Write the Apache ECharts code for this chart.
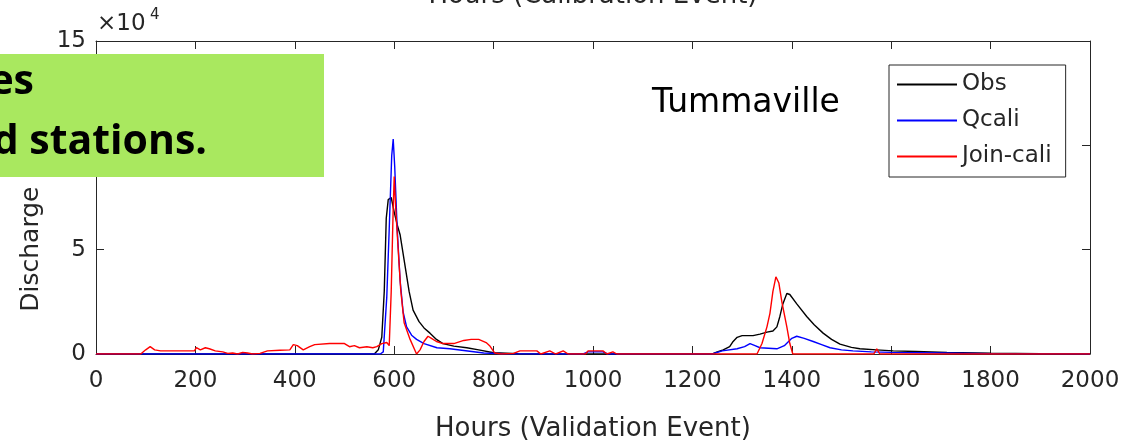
<!DOCTYPE html>
<html>
<head>
<meta charset="utf-8">
<script src="https://cdn.jsdelivr.net/npm/echarts@6/dist/echarts.min.js"></script>
<style>html,body{margin:0;padding:0;background:#fff}#c{width:1126px;height:447px}</style>
</head>
<body>
<div id="c"></div>
<script>
// ---- data (hours, discharge) ----
var obsHours = [0,560,568,575,580,584,588,594,600,606,612,620,630,638,650,660,672,685,698,720,746,770,800,850,900,1240,1250,1262,1275,1282,1290,1300,1322,1336,1350,1362,1370,1376,1382,1390,1396,1410,1430,1445,1463,1480,1497,1520,1537,1570,1604,1650,1712,1800,1900,2000];
var obsValues = [0,0,2000,8000,30000,65000,74000,75000,68000,62000,57000,45000,30000,21000,15500,12500,10000,7000,5000,3800,3000,2000,600,200,0,0,1000,2000,3500,6000,8000,8800,8800,9500,10500,11000,13000,18000,24000,29000,28500,24000,18000,14000,10000,7000,4700,3200,2500,2000,1500,1200,700,400,100,0];

var qcaliHours = [0,572,578,585,590,595,598,601,606,612,618,625,635,645,660,686,712,780,820,900,980,990,1020,1030,1240,1260,1290,1305,1316,1326,1336,1370,1385,1400,1410,1425,1443,1460,1477,1500,1523,1560,1600,1700,1800,2000];
var qcaliValues = [0,0,1000,27000,60000,95000,103000,90000,60000,35000,20000,13000,9000,7000,5000,3000,2500,500,100,0,0,1000,1000,0,0,1500,2500,3500,5000,4000,3000,2500,4000,7500,8500,7500,6000,4500,3000,2000,1500,1000,800,500,200,0];

var joinHours = [0,90,100,109,118,130,150,180,198,202,210,220,228,240,255,265,275,285,295,305,315,330,345,370,390,397,405,417,430,440,470,500,510,520,530,545,557,565,575,585,590,594,598,600,603,608,613,620,632,645,652,660,668,675,685,698,720,740,755,770,785,792,802,815,840,853,870,887,895,913,925,940,950,985,990,1020,1028,1040,1048,1330,1340,1350,1356,1362,1368,1374,1380,1390,1396,1402,1565,1571,1577,2000];
var joinValues = [0,0,2000,3500,2000,1500,1500,1500,1500,3000,2000,3000,2500,1500,1000,300,500,0,800,500,0,300,1500,1800,2000,4500,4000,2000,3500,4500,5000,5000,3500,4000,3000,3500,3000,3500,5000,5500,4000,30000,70000,85000,70000,50000,31000,15000,7000,0,2000,6000,8500,7500,6000,5000,5000,6500,7000,7000,5500,4000,500,0,300,1500,1500,1500,0,1500,0,1500,0,0,1500,1500,0,1000,0,0,5000,13000,19500,30000,37000,34000,25000,13000,5000,0,0,2500,0,0];

var seriesNames = ['Obs','Qcali','Join-cali'];
var xTicks = [0,200,400,600,800,1000,1200,1400,1600,1800,2000];
var yTicks = [0,50000,100000,150000];

function zip(h, v){ var out=[]; for(var i=0;i<h.length;i++) out.push([h[i], v[i]]); return out; }

var axisColor = '#262626';
var font = 'DejaVu Sans';
var chart = echarts.init(document.getElementById('c'), null, {renderer:'canvas'});

var baseX = {
  type:'value', min:xTicks[0], max:xTicks[xTicks.length-1], interval:200,
  axisLine:{show:true, onZero:false, lineStyle:{color:axisColor, width:1}},
  axisTick:{show:true, inside:true, length:8, lineStyle:{color:axisColor}},
  splitLine:{show:false}
};
var baseY = {
  type:'value', min:yTicks[0], max:yTicks[yTicks.length-1], interval:50000,
  axisLine:{show:true, onZero:false, lineStyle:{color:axisColor, width:1}},
  axisTick:{show:true, inside:true, length:8, lineStyle:{color:axisColor}},
  splitLine:{show:false}
};

var option = {
  animation:false,
  backgroundColor:'#ffffff',
  grid:{left:96, right:36, top:41, bottom:89, containLabel:false},
  xAxis:[
    Object.assign({}, baseX, {position:'bottom',
      axisLabel:{show:true, margin:16, color:axisColor, fontSize:23, fontFamily:font,
        formatter:function(v){return String(v);}},
      name:'Hours (Validation Event)', nameLocation:'middle', nameGap:62,
      nameTextStyle:{color:axisColor, fontSize:26, fontFamily:font}}),
    Object.assign({}, baseX, {position:'top', axisLabel:{show:false}})
  ],
  yAxis:[
    Object.assign({}, baseY, {position:'left',
      axisLabel:{show:true, margin:10, color:axisColor, fontSize:23, fontFamily:font,
        formatter:function(v){return String(v/10000);}},
      name:'Discharge (m\u00b3/s)', nameLocation:'middle', nameGap:52,
      nameTextStyle:{color:axisColor, fontSize:25, fontFamily:font, padding:[0,20,0,0]}}),
    Object.assign({}, baseY, {position:'right', axisLabel:{show:false}})
  ],
  legend:{
    orient:'vertical', left:889, top:65,
    data:seriesNames,
    icon:'rect', itemWidth:60, itemHeight:2, itemGap:13,
    backgroundColor:'#ffffff', borderColor:axisColor, borderWidth:1, borderRadius:0,
    padding:[8,14,9,8],
    textStyle:{color:axisColor, fontSize:23, fontFamily:font}
  },
  series:[
    {name:seriesNames[0], type:'line', data:zip(obsHours, obsValues), showSymbol:false, symbol:'none',
     color:'#000000', lineStyle:{color:'#000000', width:1.4}, z:2},
    {name:seriesNames[1], type:'line', data:zip(qcaliHours, qcaliValues), showSymbol:false, symbol:'none',
     color:'#0000ff', lineStyle:{color:'#0000ff', width:1.4}, z:3},
    {name:seriesNames[2], type:'line', data:zip(joinHours, joinValues), showSymbol:false, symbol:'none',
     color:'#ff0000', lineStyle:{color:'#ff0000', width:1.4}, z:4}
  ],
  graphic:[
    {type:'text', x:593, y:-17, style:{text:'Hours (Calibration Event)', fill:axisColor, font:'26px "DejaVu Sans"', textAlign:'center'}, z:10},
    {type:'text', x:97, y:24, style:{text:'\u00d710', fill:axisColor, font:'23px "DejaVu Sans"', textVerticalAlign:'middle'}, z:10},
    {type:'text', x:150, y:15, style:{text:'4', fill:axisColor, font:'15px "DejaVu Sans"', textVerticalAlign:'middle'}, z:10},
    {type:'text', x:652, y:103, style:{text:'Tummaville', fill:'#000000', font:'33px "DejaVu Sans"', textVerticalAlign:'middle'}, z:10},
    {type:'rect', shape:{x:0, y:54, width:324, height:123}, style:{fill:'#a9e85f'}, z:100},
    {type:'text', x:34, y:82, style:{text:'es', fill:'#000000', font:'bold 41px "Open Sans"', textAlign:'right', textVerticalAlign:'middle'}, z:101},
    {type:'text', x:207, y:142, style:{text:'d stations.', fill:'#000000', font:'bold 41px "Open Sans"', textAlign:'right', textVerticalAlign:'middle'}, z:101}
  ]
};
chart.setOption(option);
</script>
</body>
</html>
